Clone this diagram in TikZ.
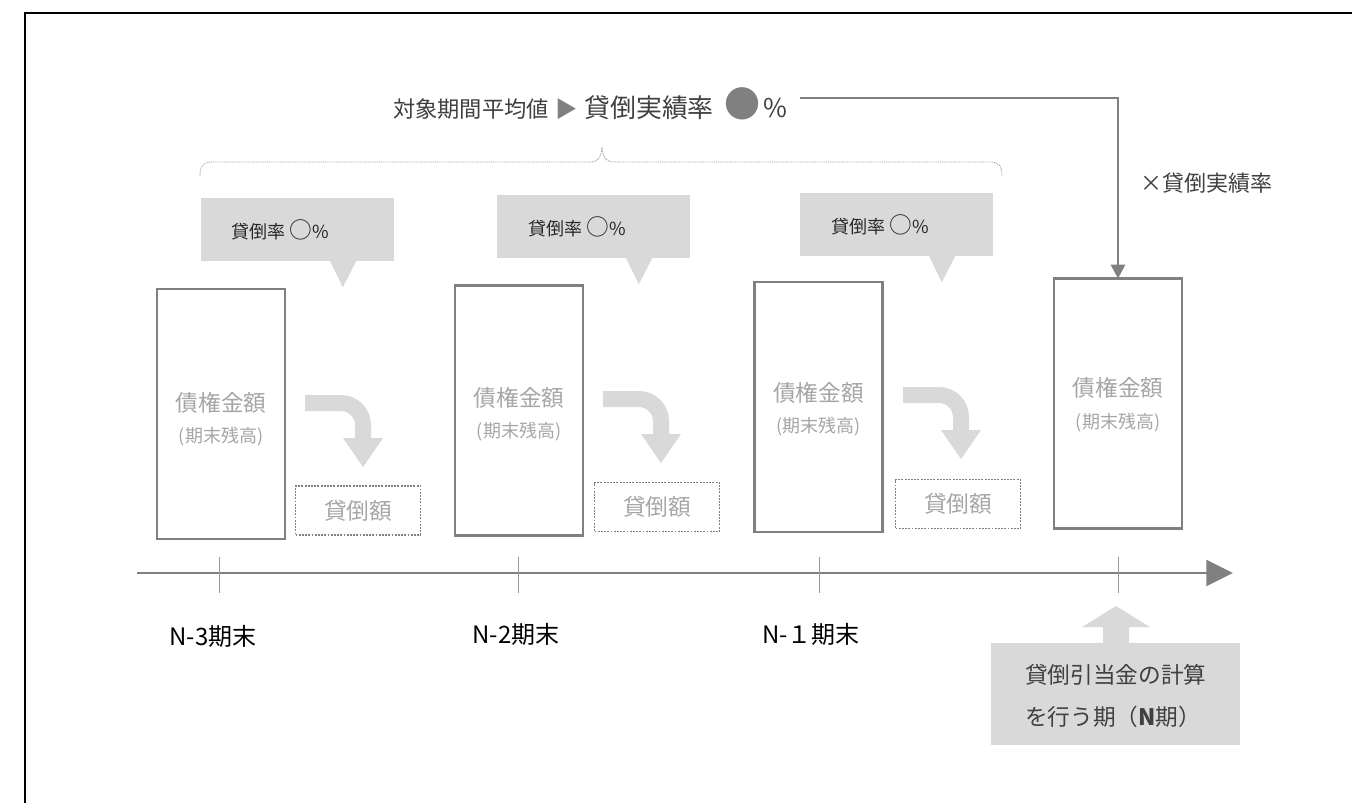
\documentclass[tikz,border=0pt]{standalone}
\usepackage{fontspec}
\setmainfont{Noto Sans CJK JP}
\usetikzlibrary{arrows.meta,calc}
\definecolor{lgray}{HTML}{D9D9D9}
\definecolor{mgray}{HTML}{808080}
\definecolor{tgray}{HTML}{A6A6A6}
\definecolor{dgray}{HTML}{404040}
\definecolor{tblack}{HTML}{262626}
\newcommand\myfs[1]{\fontsize{#1}{#1}\selectfont}
\begin{document}
\begin{tikzpicture}[x=0.75pt,y=-0.75pt,
  barbox/.style={draw=mgray, line width=1.6pt, minimum width=96pt, minimum height=187.5pt, inner sep=0pt, outer sep=0pt},
  dotbox/.style={draw=mgray, line width=1.4pt, dash pattern=on 1.4pt off 1pt, minimum width=93.75pt, minimum height=36.75pt, inner sep=0pt, text=tgray, font=\myfs{17}},
  callout/.style={fill=lgray, minimum width=144.75pt, minimum height=47.25pt, inner sep=0pt},
  callouttext/.style={font=\myfs{13.5}, text=tblack, inner sep=0pt},
  bartext/.style={text=tgray, font=\myfs{17}, inner sep=0pt},
  barsub/.style={text=tgray, font=\myfs{13.5}, inner sep=0pt},
  axislbl/.style={font=\myfs{18}, text=black, inner sep=0pt},
  curvearrow/.style={draw=lgray, line width=12pt, rounded corners=16.5pt},
  conn/.style={draw=mgray, line width=1pt, -{Triangle[width=11pt,length=10.5pt]}},
  axisline/.style={draw=mgray, line width=1.5pt, -{Triangle[width=19.5pt,length=20pt]}},
  tickline/.style={draw=mgray!80, line width=0.6pt},
  bracepath/.style={draw=mgray!80, line width=0.6pt, dash pattern=on 0.7pt off 0.7pt},
]
\useasboundingbox (0,0) rectangle (1352,803);
\fill[white] (0,0) rectangle (1352,803);
% frame
\draw[line width=1.7pt] (25,803) -- (25,12.8) -- (1352,12.8);

% top text
\node[inner sep=0pt] (top) at (590,104) {{\color{dgray}\myfs{16.7}対象期間平均値}\hspace{5pt}{\color{mgray}\myfs{16.7}▶}\hspace{5pt}{\color{dgray}\myfs{19.4}貸倒実績率}\hspace{8pt}{\color{mgray}\myfs{27}●}\hspace{2pt}{\color{dgray}\myfs{19.4}\%}};
\coordinate (ls) at (800,98);

% brace
\draw[bracepath] (200,176) .. controls (200,166) and (203,162) .. (212,162) -- (590,162)
  .. controls (598,162) and (601,158) .. (602,147)
  .. controls (603,158) and (606,162) .. (614,162) -- (990,162)
  .. controls (999,162) and (1002,166) .. (1002,176);

% callouts
\node[callout] (c1) at (297.5,229.5) {};
\node[callout] (c2) at (593.5,226.5) {};
\node[callout] (c3) at (896.5,224.5) {};
\foreach \c in {c1,c2,c3}{
  \fill[lgray] ($(\c.south west)+(129,-1)$) -- ($(\c.south west)+(156,-1)$) -- ($(\c.south west)+(142,26)$) -- cycle;
}
\node[callouttext] (c1t) at ($(c1)+(-17,0)$) {貸倒率 {\myfs{17}○}\%};
\node[callouttext] (c2t) at ($(c2)+(-16,0)$) {貸倒率 {\myfs{17}○}\%};
\node[callouttext] (c3t) at ($(c3)+(-16,0)$) {貸倒率 {\myfs{17}○}\%};

% bars
\node[barbox] (b1) at (221,414) {};
\node[barbox] (b2) at (519,410.5) {};
\node[barbox] (b3) at (818.5,407) {};
\node[barbox] (b4) at (1118,403.5) {};
\node[bartext] (b1t) at (221,403) {債権金額};
\node[barsub] (b1s) at (221,437) {(期末残高)};
\node[bartext] (b2t) at (519,398) {債権金額};
\node[barsub] (b2s) at (519,432) {(期末残高)};
\node[bartext] (b3t) at (818.5,393) {債権金額};
\node[barsub] (b3s) at (818.5,427) {(期末残高)};
\node[bartext] (b4t) at (1118,388) {債権金額};
\node[barsub] (b4s) at (1118,423) {(期末残高)};

% curved arrows
\foreach \dx/\dy in {0/0, 298/-4, 598/-8}{
  \draw[curvearrow] (305+\dx,403+\dy) -| (363+\dx,440+\dy);
  \fill[lgray] (343+\dx,438+\dy) -- (383+\dx,438+\dy) -- (363+\dx,467+\dy) -- cycle;
}

% dotted boxes
\node[dotbox] (d1) at (358,510.5) {貸倒額};
\node[dotbox] (d2) at (657,507) {貸倒額};
\node[dotbox] (d3) at (958,504) {貸倒額};

% connector to N bar
\draw[conn] (ls) -| (b4.north);
\node[font=\myfs{16.5}, text=dgray, inner sep=0pt] (xt) at (1206,183) {×貸倒実績率};

% axis
\coordinate (ax0) at (137,573);
\coordinate (ax1) at (1233,573);
\draw[axisline] (ax0) -- (ax1);
\foreach \x in {219,518,819,1118}{
  \draw[tickline] (\x,557) -- (\x,593);
}
\node[axislbl] (l1) at (213,636) {N-3期末};
\node[axislbl] (l2) at (516,634) {N-2期末};
\node[axislbl] (l3) at (811,634) {N-１期末};

% bottom box
\fill[lgray] (1103,644) -- (1103,627) -- (1082,627) -- (1116,606) -- (1150,627) -- (1129,627) -- (1129,644) -- cycle;
\node[fill=lgray, minimum width=186.75pt, minimum height=76.5pt, inner sep=0pt] (nb) at (1115.5,694) {};
\node[align=left, font=\fontsize{17}{31.5}\selectfont, text=dgray, anchor=west, inner sep=0pt] (nbt) at (1025,696) {貸倒引当金の計算\\ を行う期（{\bfseries N}期）};
\end{tikzpicture}
\end{document}
